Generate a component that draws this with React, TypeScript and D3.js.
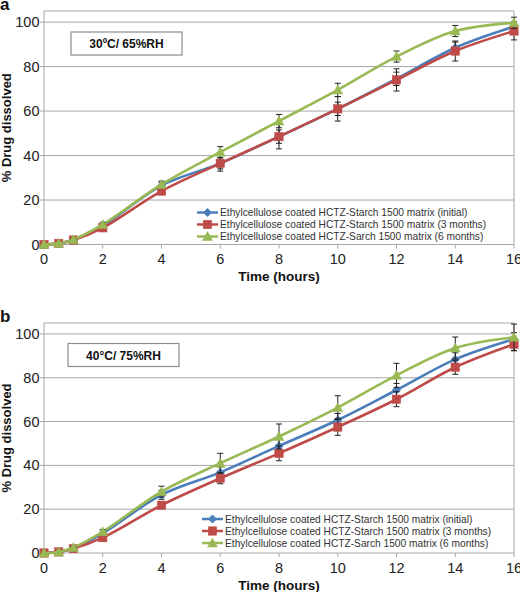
import React from "react";
import * as d3 from "d3";

const times = [0, 0.5, 1, 2, 4, 6, 8, 10, 12, 14, 16];
const xTicks = [0, 2, 4, 6, 8, 10, 12, 14, 16];
const yTicks = [0, 20, 40, 60, 80, 100];

const seriesNames = [
  "Ethylcellulose coated HCTZ-Starch 1500 matrix (initial)",
  "Ethylcellulose coated HCTZ-Starch 1500 matrix (3 months)",
  "Ethylcellulose coated HCTZ-Sarch 1500 matrix (6 months)",
];
const seriesColors = ["#4A7EBB", "#BE4B48", "#98B954"];
const seriesShapes = ["diamond", "square", "triangle"];

// Panel a: 30ºC/ 65%RH
const aInitial = [0, 0.5, 2, 8.5, 26.5, 36.5, 48.5, 61, 74.5, 88.5, 98];
const aInitialErr = [0, 0.2, 0.5, 1, 1.5, 2.5, 3, 3, 3, 2.5, 2];
const a3m = [0, 0.5, 2, 7.5, 24, 36.5, 48.5, 61, 74, 87, 96];
const a3mErr = [0, 0.2, 0.5, 1, 1.5, 3.5, 5.5, 5.5, 5, 4.5, 4];
const a6m = [0, 0.5, 2.2, 9, 27, 41.5, 55.5, 69.5, 84.5, 96, 99.7];
const a6mErr = [0, 0.2, 0.5, 1, 1.5, 2.5, 3, 3, 2.5, 2.5, 2.5];

// Panel b: 40°C/ 75%RH
const bInitial = [0, 0.5, 2.2, 9, 26.5, 36.8, 48.9, 60.7, 74.4, 88.4, 97.6];
const bInitialErr = [0, 0.2, 0.5, 1, 2, 2.5, 3, 3, 3, 3, 3];
const b3m = [0, 0.5, 2, 7, 21.8, 34.1, 45.5, 57.5, 70.2, 84.8, 95.3];
const b3mErr = [0, 0.2, 0.5, 0.8, 1.2, 2.5, 3.4, 3.8, 3.4, 3.2, 3];
const b6m = [0, 0.5, 2.5, 9.7, 28, 41, 53.2, 66.4, 81.1, 93.6, 98.5];
const b6mErr = [0, 0.2, 0.5, 1, 2.5, 4.5, 5.7, 5.4, 5.5, 5, 6];

const FONT = "Liberation Sans, Arial, sans-serif";

function Marker({ shape, x, y, color }: { shape: string; x: number; y: number; color: string }) {
  if (shape === "diamond") {
    const r = 4;
    return <path d={`M${x},${y - r}L${x + r},${y}L${x},${y + r}L${x - r},${y}Z`} fill={color} stroke={color} strokeWidth={1} />;
  }
  if (shape === "square") {
    const r = 4.2;
    return <rect x={x - r} y={y - r} width={2 * r} height={2 * r} fill={color} stroke={color} strokeWidth={0.5} />;
  }
  const r = 5;
  return <path d={`M${x},${y - r}L${x + r},${y + r * 0.8}L${x - r},${y + r * 0.8}Z`} fill={color} stroke={color} strokeWidth={0.5} />;
}

function Panel({
  label, annotation, top, bottom, values, errors, legendY, legendX, boxX, boxY,
}: {
  label: string; annotation: string; top: number; bottom: number;
  values: number[][]; errors: number[][]; legendY: number; legendX: number; boxX: number; boxY: number;
}) {
  const left = 44, right = 514;
  const x = d3.scaleLinear().domain([0, 16]).range([left, right]);
  const y = d3.scaleLinear().domain([0, 105]).range([bottom, top]);
  const line = d3.line<number>().x((_, i) => x(times[i])).y((d) => y(d)).curve(d3.curveCatmullRom.alpha(0.5));
  const grid = "#A6A6A6";
  return (
    <g fontFamily={FONT}>
      <text x={0} y={top - 1.5} fontSize={17} fontWeight="bold" fill="#111">{label}</text>
      {/* plot border */}
      <line x1={left} x2={right} y1={top} y2={top} stroke={grid} strokeWidth={1} />
      <line x1={right} x2={right} y1={top} y2={bottom} stroke={grid} strokeWidth={1} />
      {yTicks.map((t) => (
        <g key={t}>
          <line x1={left} x2={right} y1={y(t)} y2={y(t)} stroke={grid} strokeWidth={1} />
          <line x1={left - 4} x2={left} y1={y(t)} y2={y(t)} stroke={grid} strokeWidth={1} />
          <text x={left - 4.5} y={y(t) + 5} fontSize={14.5} textAnchor="end" fill="#222">{t}</text>
        </g>
      ))}
      <line x1={left} x2={left} y1={top} y2={bottom} stroke={grid} strokeWidth={1} />
      {xTicks.map((t) => (
        <g key={t}>
          <line x1={x(t)} x2={x(t)} y1={bottom} y2={bottom + 4} stroke={grid} strokeWidth={1} />
          <text x={x(t)} y={bottom + 19.5} fontSize={14.5} textAnchor="middle" fill="#222">{t}</text>
        </g>
      ))}
      <text x={(left + right) / 2} y={bottom + 36.5} fontSize={13.5} fontWeight="bold" textAnchor="middle" fill="#111">Time (hours)</text>
      <text transform={`translate(11,${(top + bottom) / 2}) rotate(-90)`} fontSize={13} fontWeight="bold" textAnchor="middle" fill="#111">% Drug dissolved</text>
      {/* annotation box */}
      <rect x={boxX} y={boxY} width={111} height={23} fill="#fff" stroke="#8c8c8c" strokeWidth={1.2} />
      <text x={boxX + 55.5} y={boxY + 16} fontSize={12} fontWeight="bold" textAnchor="middle" fill="#111">{annotation}</text>
      {/* series */}
      {values.map((vals, s) => (
        <g key={s}>
          <path d={line(vals) || ""} fill="none" stroke={seriesColors[s]} strokeWidth={2.6} />
          {vals.map((v, i) => {
            const e = errors[s][i];
            if (e <= 0.3) return null;
            const cx = x(times[i]);
            return (
              <g key={i} stroke="#222" strokeWidth={1}>
                <line x1={cx} x2={cx} y1={y(v + e)} y2={y(v - e)} />
                <line x1={cx - 3} x2={cx + 3} y1={y(v + e)} y2={y(v + e)} />
                <line x1={cx - 3} x2={cx + 3} y1={y(v - e)} y2={y(v - e)} />
              </g>
            );
          })}
          {vals.map((v, i) => (
            <Marker key={i} shape={seriesShapes[s]} x={x(times[i])} y={y(v)} color={seriesColors[s]} />
          ))}
        </g>
      ))}
      {/* legend */}
      {seriesNames.map((n, s) => {
        const ly = legendY + s * 12;
        return (
          <g key={s}>
            <line x1={legendX} x2={legendX + 21} y1={ly} y2={ly} stroke={seriesColors[s]} strokeWidth={2.5} />
            <Marker shape={seriesShapes[s]} x={legendX + 10.5} y={ly} color={seriesColors[s]} />
            <text x={legendX + 23} y={ly + 3.7} fontSize={10.2} fill="#333">{n}</text>
          </g>
        );
      })}
    </g>
  );
}

export default function App() {
  return (
    <svg width={520} height={592} style={{ position: "absolute", left: 0, top: 0, background: "#fff" }}>
      <rect width={520} height={592} fill="#fff" />
      <Panel
        label="a" annotation="30ºC/ 65%RH" top={11} bottom={244.5}
        values={[aInitial, a3m, a6m]} errors={[aInitialErr, a3mErr, a6mErr]}
        legendX={197} legendY={212.5} boxX={71} boxY={32}
      />
      <Panel
        label="b" annotation="40°C/ 75%RH" top={323} bottom={553}
        values={[bInitial, b3m, b6m]} errors={[bInitialErr, b3mErr, b6mErr]}
        legendX={202} legendY={519} boxX={68} boxY={343.5}
      />
    </svg>
  );
}
